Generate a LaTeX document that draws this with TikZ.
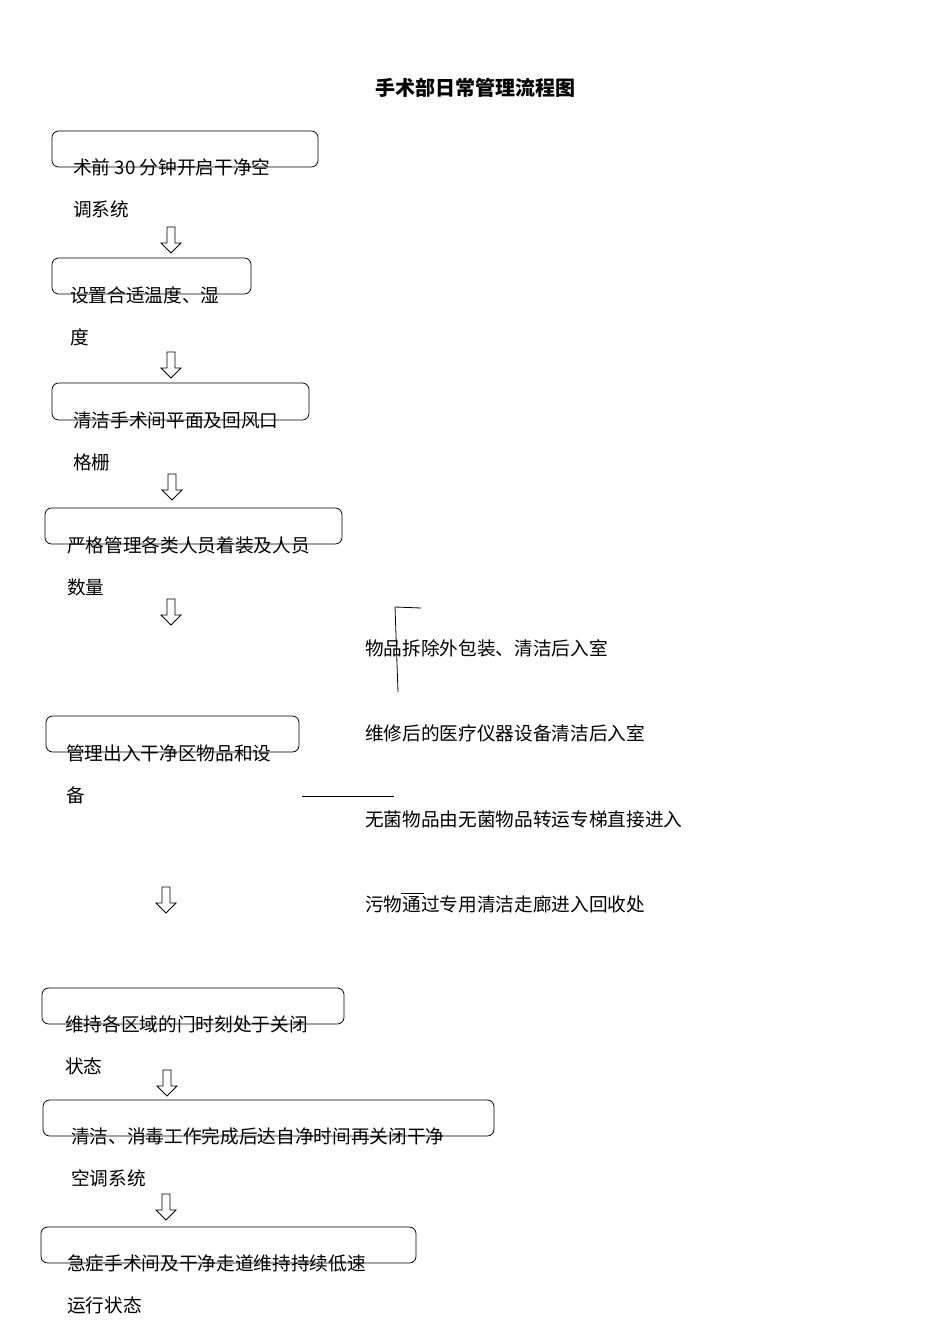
\documentclass[tikz,border=0pt]{standalone}
\usepackage{fontspec}
\setmainfont{Noto Sans CJK SC}
\usetikzlibrary{shapes.arrows}
\begin{document}
\begin{tikzpicture}[x=0.75pt,y=-0.75pt,
 bx/.style={draw,rounded corners=5pt,line width=0.6pt},
 tx/.style={anchor=west,inner sep=0,font=\fontsize{14}{16}\selectfont},
 dn/.style={draw,single arrow,shape border rotate=270,minimum height=19.5pt,minimum width=15pt,single arrow head extend=3.5pt,inner sep=2pt,line width=0.6pt},
 ln/.style={line width=0.6pt}]
\useasboundingbox (0,0) rectangle (950,1344);
\node[font=\bfseries\fontsize{15}{17}\selectfont] (title) at (475,88) {手术部日常管理流程图};
\draw[bx] (52,131) rectangle (318,167);
\node[tx] (t1a) at (73,167) {术前 30 分钟开启干净空};
\node[tx] (t1b) at (73,209) {调系统};
\node[dn] (a1) at (171,238) {};
\draw[bx] (52,258) rectangle (251,294);
\node[tx] (t2a) at (70,295) {设置合适温度、湿};
\node[tx] (t2b) at (70,337) {度};
\node[dn] (a2) at (171,363) {};
\draw[bx] (52,383) rectangle (309,420);
\node[tx] (t3a) at (73,420) {清洁手术间平面及回风口};
\node[tx] (t3b) at (73,462) {格栅};
\node[dn] (a3) at (172,485) {};
\draw[bx] (45,508) rectangle (342,544);
\node[tx] (t4a) at (67,545) {严格管理各类人员着装及人员};
\node[tx] (t4b) at (67,587) {数量};
\node[dn] (a4) at (171,610) {};
\draw[bx] (46,716) rectangle (299,752);
\node[tx] (t5a) at (66,753) {管理出入干净区物品和设};
\node[tx] (t5b) at (66,795) {备};
\node[tx] (r1) at (365,648) {物品拆除外包装、清洁后入室};
\node[tx] (r2) at (365,733) {维修后的医疗仪器设备清洁后入室};
\node[tx] (r3) at (365,819) {无菌物品由无菌物品转运专梯直接进入};
\node[tx] (r4) at (365,904) {污物通过专用清洁走廊进入回收处};
\draw[ln] (421,608) -- (395,607) -- (398,692);
\draw[ln] (302,796) -- (394,796);
\draw[ln] (401,893) -- (424,893);
\node[dn] (a5) at (166,898) {};
\draw[bx] (42,988) rectangle (344,1024);
\node[tx] (t6a) at (65,1024) {维持各区域的门时刻处于关闭};
\node[tx] (t6b) at (65,1066) {状态};
\node[dn] (a6) at (167,1081) {};
\draw[bx] (43,1100) rectangle (494,1136);
\node[tx] (t7a) at (71,1136) {清洁、消毒工作完成后达自净时间再关闭干净};
\node[tx] (t7b) at (71,1178) {空调系统};
\node[dn] (a7) at (166,1205) {};
\draw[bx] (41,1227) rectangle (416,1263);
\node[tx] (t8a) at (67,1263) {急症手术间及干净走道维持持续低速};
\node[tx] (t8b) at (67,1305) {运行状态};
\end{tikzpicture}
\end{document}
